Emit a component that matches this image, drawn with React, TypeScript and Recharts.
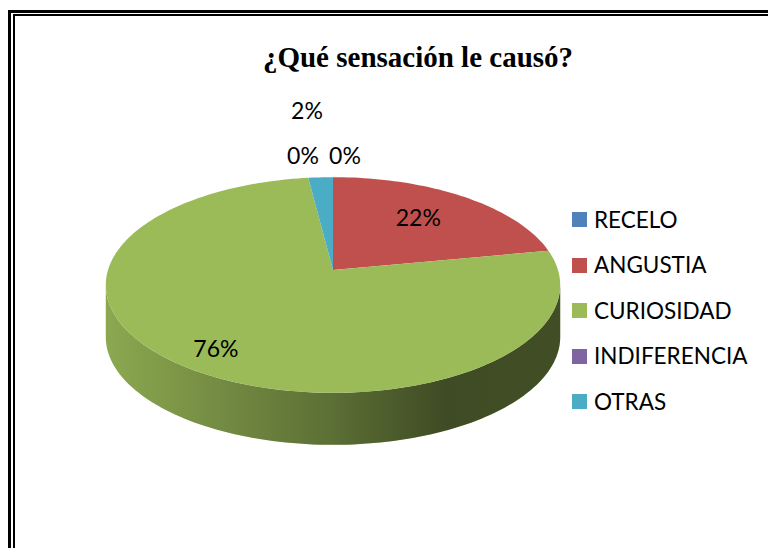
import React from 'react';
import { PieChart, Pie, Cell, Legend } from 'recharts';

const title = '¿Qué sensación le causó?';
const categories = ['RECELO', 'ANGUSTIA', 'CURIOSIDAD', 'INDIFERENCIA', 'OTRAS'];
const values = [0, 22, 76, 0, 2];
const colors = ['#4F81BD', '#C0504D', '#9BBB59', '#8064A2', '#4BACC6'];

const data = categories.map((name, i) => ({ name, value: values[i] }));

const W = 768;
const H = 548;
const CX = 333;
const CY = 270;
const R = 225;
// perspective tilt: vertical squash and perspective strength
const S = 0.47;
const Q = 0.139;
const DEPTH = 52;
const RAD = Math.PI / 180;
const FONT = 'Lato, "Noto Sans", sans-serif';

function proj(cx: number, cy: number, r: number, a: number) {
  const c = Math.cos(a * RAD);
  const s = Math.sin(a * RAD);
  const d = 1 + Q * s;
  return [cx + (r * c) / d, cy - (r * S * s) / d];
}

function arcPoints(cx: number, cy: number, r: number, a0: number, a1: number) {
  const n = Math.max(2, Math.ceil(Math.abs(a1 - a0) / 1.5));
  const pts: number[][] = [];
  for (let i = 0; i <= n; i++) pts.push(proj(cx, cy, r, a0 + ((a1 - a0) * i) / n));
  return pts;
}

const f = (v: number) => v.toFixed(2);

function Sector3D(props: any) {
  const { cx, cy, outerRadius, startAngle, endAngle, fill, index } = props;
  if (Math.abs(endAngle - startAngle) < 1e-6) return <g />;
  const r = outerRadius;
  const a0 = Math.min(startAngle, endAngle);
  const a1 = Math.max(startAngle, endAngle);
  const top = arcPoints(cx, cy, r, a0, a1);
  const topD = `M${f(cx)},${f(cy)} ` + top.map((p) => `L${f(p[0])},${f(p[1])}`).join(' ') + ' Z';
  const edge = Math.asin(Q) / RAD;
  const sides: string[] = [];
  for (let k = Math.floor(a0 / 360) - 2; k <= Math.ceil(a1 / 360) + 1; k++) {
    const s = Math.max(a0, 180 + edge + 360 * k);
    const e = Math.min(a1, 360 - edge + 360 * k);
    if (e > s) {
      const up = arcPoints(cx, cy, r, s, e);
      const down = up.slice().reverse().map((p) => [p[0], p[1] + DEPTH]);
      const all = up.concat(down);
      sides.push('M' + all.map((p) => `${f(p[0])},${f(p[1])}`).join(' L') + ' Z');
    }
  }
  const halfW = r / Math.sqrt(1 - Q * Q);
  const gid = `side-shade-${index}`;
  return (
    <g>
      <defs>
        <linearGradient id={gid} gradientUnits="userSpaceOnUse" x1={cx - halfW} y1={cy} x2={cx + halfW} y2={cy}>
          <stop offset="0" stopColor="#000" stopOpacity={0.1} />
          <stop offset="0.5" stopColor="#000" stopOpacity={0.41} />
          <stop offset="0.75" stopColor="#000" stopOpacity={0.6} />
          <stop offset="1" stopColor="#000" stopOpacity={0.58} />
        </linearGradient>
      </defs>
      {sides.map((d, i) => (
        <g key={i}>
          <path d={d} fill={fill} stroke="none" />
          <path d={d} fill={`url(#${gid})`} stroke="none" />
        </g>
      ))}
      <path d={topD} fill={fill} stroke="none" />
    </g>
  );
}

function renderLabel(p: any) {
  const { cx, cy, midAngle, outerRadius, percent, index } = p;
  const r = outerRadius;
  // visible ellipse of the top face
  const halfW = r / Math.sqrt(1 - Q * Q);
  const halfH = (r * S) / (1 - Q * Q);
  const ecy = cy + (r * S * Q) / (1 - Q * Q);
  let x: number;
  let y: number;
  if (percent >= 0.05) {
    x = cx + halfW * 0.727 * Math.cos(midAngle * RAD) - 20;
    y = ecy - halfH * 0.768 * Math.sin(midAngle * RAD) - 4;
  } else {
    const topY = ecy - halfH;
    if (index === 0) {
      x = cx + 12;
      y = topY - 22;
    } else if (index === 3) {
      x = cx - 30;
      y = topY - 22;
    } else {
      x = cx - 26;
      y = topY - 67;
    }
  }
  return (
    <text
      x={x}
      y={y}
      textAnchor="middle"
      dominantBaseline="central"
      fill="#000"
      style={{ fontFamily: FONT, fontSize: 23 }}
    >
      {`${Math.round(percent * 100)}%`}
    </text>
  );
}

function LegendContent() {
  return (
    <div style={{ fontFamily: FONT, fontSize: 22.5, color: '#000' }}>
      {categories.map((name, i) => (
        <div key={name} style={{ display: 'flex', alignItems: 'center', height: 45.5 }}>
          <span style={{ display: 'inline-block', width: 15, height: 15, background: colors[i], marginRight: 7 }} />
          <span style={{ lineHeight: '24px' }}>{name}</span>
        </div>
      ))}
    </div>
  );
}

export default function App() {
  return (
    <div style={{ position: 'absolute', left: 0, top: 0, width: W, height: H, overflow: 'hidden', background: '#fff' }}>
      <div style={{ position: 'absolute', left: 8, top: 10, width: 1000, height: 800, border: '3px solid #000', boxSizing: 'border-box' }} />
      <div style={{ position: 'absolute', left: 13, top: 14, width: 1000, height: 800, border: '2px solid #000', boxSizing: 'border-box' }} />
      <div
        style={{
          position: 'absolute',
          left: 218,
          top: 43,
          width: 400,
          textAlign: 'center',
          fontFamily: '"Liberation Serif", "Times New Roman", serif',
          fontWeight: 'bold',
          fontSize: 29,
          lineHeight: '29px',
          color: '#000',
        }}
      >
        {title}
      </div>
      <div style={{ position: 'absolute', left: 0, top: 0 }}>
        <PieChart width={W} height={H} margin={{ top: 0, right: 0, bottom: 0, left: 0 }}>
          <Pie
            data={data}
            dataKey="value"
            nameKey="name"
            cx={CX}
            cy={CY}
            outerRadius={R}
            startAngle={90}
            endAngle={-270}
            stroke="none"
            isAnimationActive={false}
            labelLine={false}
            label={renderLabel}
            shape={Sector3D}
            activeShape={Sector3D}
          >
            {data.map((d, i) => (
              <Cell key={d.name} fill={colors[i]} />
            ))}
          </Pie>
          <Legend
            layout="vertical"
            align="right"
            verticalAlign="top"
            content={LegendContent}
            wrapperStyle={{ position: 'absolute', left: 572, top: 197, width: 190 }}
          />
        </PieChart>
      </div>
    </div>
  );
}
